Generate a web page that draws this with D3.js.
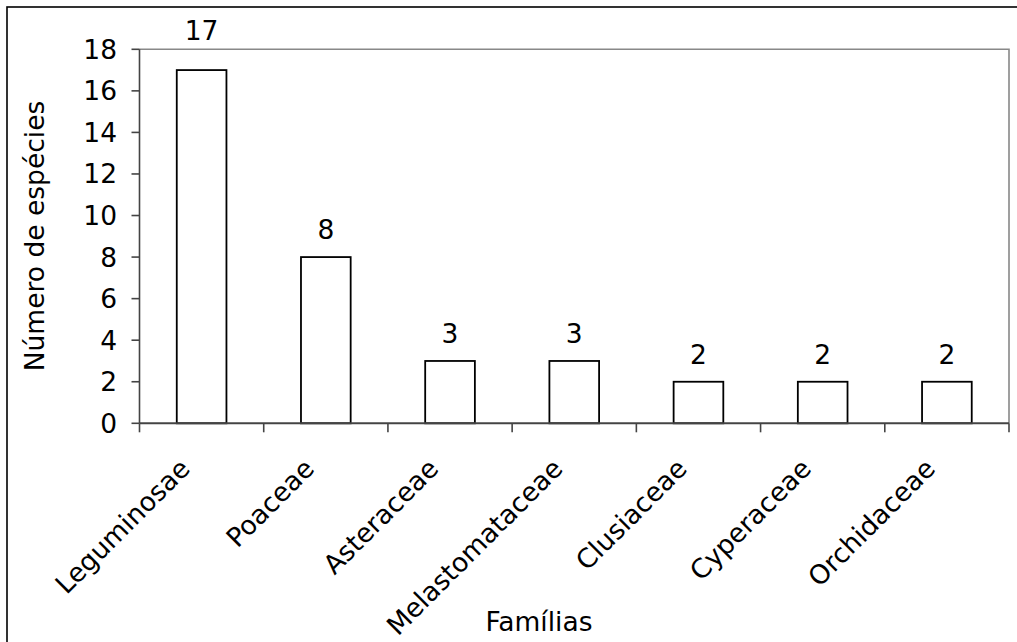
<!DOCTYPE html>
<html>
<head>
<meta charset="utf-8">
<script src="https://cdn.jsdelivr.net/npm/d3@7"></script>
<style>
  html, body { margin: 0; padding: 0; background: #fff; }
  svg { display: block; }
  text { font-family: Verdana, "DejaVu Sans", sans-serif; fill: #000; }
</style>
</head>
<body>
<script>
const categories = ["Leguminosae", "Poaceae", "Asteraceae", "Melastomataceae", "Clusiaceae", "Cyperaceae", "Orchidaceae"];
const values = [17, 8, 3, 3, 2, 2, 2];
const yTicks = [0, 2, 4, 6, 8, 10, 12, 14, 16, 18];
const yTitle = "Número de espécies";
const xTitle = "Famílias";

(function () {
const W = 1017, H = 642;
const pLeft = 139.5, pRight = 1009, pTop = 49.3, pBottom = 423.3;
const fs = 26.5;

const svg = d3.select("body").append("svg").attr("width", W).attr("height", H);

// outer chart border (extends past the bottom/right edges)
svg.append("rect").attr("x", 7).attr("y", 7).attr("width", W + 20).attr("height", H + 20)
  .attr("fill", "none").attr("stroke", "#000").attr("stroke-width", 1.6);

const x = d3.scaleBand().domain(categories).range([pLeft, pRight]).paddingInner(0.6).paddingOuter(0.3);
const y = d3.scaleLinear().domain([0, 18]).range([pBottom, pTop]);
const step = x.step();

// plot area border (top & right)
svg.append("path")
  .attr("d", `M${pLeft},${pTop}H${pRight}V${pBottom}`)
  .attr("fill", "none").attr("stroke", "#888").attr("stroke-width", 1.6);

// bars
svg.selectAll("rect.bar").data(values).join("rect").attr("class", "bar")
  .attr("x", (d, i) => x(categories[i]))
  .attr("y", d => y(d))
  .attr("width", x.bandwidth())
  .attr("height", d => y(0) - y(d))
  .attr("fill", "#fff").attr("stroke", "#000").attr("stroke-width", 1.8);

// value labels
svg.selectAll("text.val").data(values).join("text").attr("class", "val")
  .attr("x", (d, i) => x(categories[i]) + x.bandwidth() / 2)
  .attr("y", d => Math.min(y(d) - 18, y(d) - 18 - Math.max(0, d - 15) * 6))
  .attr("text-anchor", "middle").attr("font-size", fs)
  .text(d => d);

const axisColor = "#444";
// y axis
svg.append("line").attr("x1", pLeft).attr("x2", pLeft).attr("y1", pTop).attr("y2", pBottom)
  .attr("stroke", axisColor).attr("stroke-width", 1.6);
const yg = svg.append("g");
yg.selectAll("line").data(yTicks).join("line")
  .attr("x1", pLeft - 8).attr("x2", pLeft).attr("y1", d => y(d)).attr("y2", d => y(d))
  .attr("stroke", axisColor).attr("stroke-width", 1.6);
yg.selectAll("text").data(yTicks).join("text")
  .attr("x", 117).attr("y", d => y(d) + 9.5)
  .attr("text-anchor", "end").attr("font-size", fs)
  .text(d => d);

// x axis
svg.append("line").attr("x1", pLeft).attr("x2", pRight).attr("y1", pBottom).attr("y2", pBottom)
  .attr("stroke", axisColor).attr("stroke-width", 2);
const bounds = categories.map(c => x(c) + x.bandwidth() / 2 - step / 2).concat([pRight]);
svg.append("g").selectAll("line").data(bounds).join("line")
  .attr("x1", d => d).attr("x2", d => d).attr("y1", pBottom).attr("y2", pBottom + 9)
  .attr("stroke", axisColor).attr("stroke-width", 1.6);

// category labels (rotated -45)
svg.append("g").selectAll("text").data(categories).join("text")
  .attr("transform", c => `translate(${x(c) + x.bandwidth() / 2 - 10},${pBottom + 47}) rotate(-45)`)
  .attr("text-anchor", "end").attr("font-size", fs)
  .text(c => c);

// axis titles
svg.append("text").attr("transform", `translate(44,236) rotate(-90)`)
  .attr("text-anchor", "middle").attr("font-size", fs).text(yTitle);
svg.append("text").attr("x", 539).attr("y", 631)
  .attr("text-anchor", "middle").attr("font-size", fs).text(xTitle);
})();
</script>
</body>
</html>
